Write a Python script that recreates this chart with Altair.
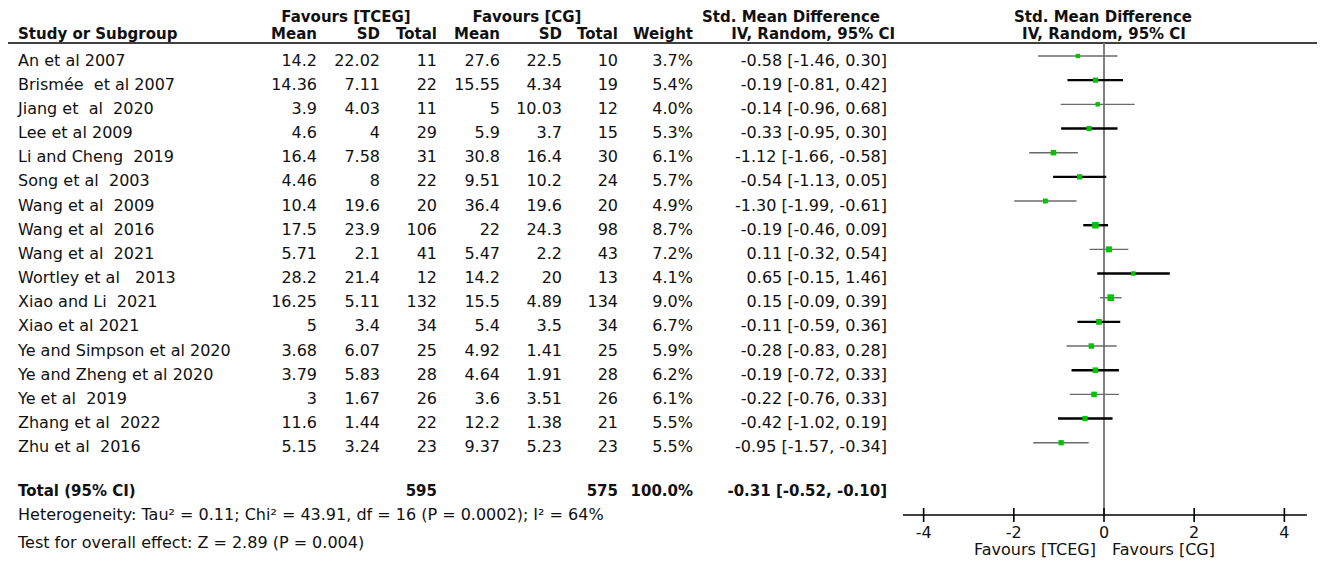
import altair as alt
import pandas as pd

# ---------------- data ----------------
studies = ["An et al 2007", "Brismée  et al 2007", "Jiang et  al  2020", "Lee et al 2009",
           "Li and Cheng  2019", "Song et al  2003", "Wang et al  2009", "Wang et al  2016",
           "Wang et al  2021", "Wortley et al   2013", "Xiao and Li  2021", "Xiao et al 2021",
           "Ye and Simpson et al 2020", "Ye and Zheng et al 2020", "Ye et al  2019",
           "Zhang et al  2022", "Zhu et al  2016"]
tceg_mean = [14.2, 14.36, 3.9, 4.6, 16.4, 4.46, 10.4, 17.5, 5.71, 28.2, 16.25, 5, 3.68, 3.79, 3, 11.6, 5.15]
tceg_sd = [22.02, 7.11, 4.03, 4, 7.58, 8, 19.6, 23.9, 2.1, 21.4, 5.11, 3.4, 6.07, 5.83, 1.67, 1.44, 3.24]
tceg_n = [11, 22, 11, 29, 31, 22, 20, 106, 41, 12, 132, 34, 25, 28, 26, 22, 23]
cg_mean = [27.6, 15.55, 5, 5.9, 30.8, 9.51, 36.4, 22, 5.47, 14.2, 15.5, 5.4, 4.92, 4.64, 3.6, 12.2, 9.37]
cg_sd = [22.5, 4.34, 10.03, 3.7, 16.4, 10.2, 19.6, 24.3, 2.2, 20, 4.89, 3.5, 1.41, 1.91, 3.51, 1.38, 5.23]
cg_n = [10, 19, 12, 15, 30, 24, 20, 98, 43, 13, 134, 34, 25, 28, 26, 21, 23]
weight = [3.7, 5.4, 4.0, 5.3, 6.1, 5.7, 4.9, 8.7, 7.2, 4.1, 9.0, 6.7, 5.9, 6.2, 6.1, 5.5, 5.5]
smd = [-0.58, -0.19, -0.14, -0.33, -1.12, -0.54, -1.30, -0.19, 0.11, 0.65, 0.15, -0.11, -0.28, -0.19, -0.22, -0.42, -0.95]
ci_low = [-1.46, -0.81, -0.96, -0.95, -1.66, -1.13, -1.99, -0.46, -0.32, -0.15, -0.09, -0.59, -0.83, -0.72, -0.76, -1.02, -1.57]
ci_high = [0.30, 0.42, 0.68, 0.30, -0.58, 0.05, -0.61, 0.09, 0.54, 1.46, 0.39, 0.36, 0.28, 0.33, 0.33, 0.19, -0.34]

total_n_tceg = 595
total_n_cg = 575
total_weight = 100.0
total_smd = -0.31
total_low = -0.52
total_high = -0.10
heterogeneity = "Heterogeneity: Tau² = 0.11; Chi² = 43.91, df = 16 (P = 0.0002); I² = 64%"
overall_effect = "Test for overall effect: Z = 2.89 (P = 0.004)"
axis_ticks = [-4, -2, 0, 2, 4]
axis_extent = [-4.46, 4.5]

# ---------------- layout / style ----------------
W, H = 1309, 552
FONT = "DejaVu Sans"
FS = 16          # regular text
FSB = 15         # bold text
ROW1_PX, ROW_H = 48, 24.17          # plot px of first study row, row pitch
ZERO_PX, PX_PER_UNIT = 1096, 45.09  # plot px of x = 0, px per SMD unit
GREEN = "#00c400"
TXT = "#111111"

y_dom = [1 - ROW1_PX / ROW_H, 1 + (H - ROW1_PX) / ROW_H]
x_dom = [-ZERO_PX / PX_PER_UNIT, (W - ZERO_PX) / PX_PER_UNIT]
XS = alt.Scale(domain=x_dom, nice=False, zero=False)
YS = alt.Scale(domain=y_dom, nice=False, zero=False, reverse=True)


def g(v):
    return f"{v:g}"


def keep_spaces(s):
    # keep repeated spaces visible in SVG text
    return s.replace("  ", " \u00a0")


n = len(studies)
df = pd.DataFrame({
    "row": list(range(1, n + 1)),
    "study": [keep_spaces(s) for s in studies],
    "m1": [g(v) for v in tceg_mean],
    "s1": [g(v) for v in tceg_sd],
    "n1": [str(v) for v in tceg_n],
    "m2": [g(v) for v in cg_mean],
    "s2": [g(v) for v in cg_sd],
    "n2": [str(v) for v in cg_n],
    "w": weight,
    "wtxt": [f"{v:.1f}%" for v in weight],
    "smd": smd,
    "lo": ci_low,
    "hi": ci_high,
    "ci": [f"{a:.2f} [{b:.2f}, {c:.2f}]" for a, b, c in zip(smd, ci_low, ci_high)],
    "band": ["g" if i % 2 == 0 else "k" for i in range(n)],
})

TOTAL_ROW = n + 2
tot = pd.DataFrame({
    "row": [TOTAL_ROW],
    "label": ["Total (95% CI)"],
    "n1": [str(total_n_tceg)],
    "n2": [str(total_n_cg)],
    "wtxt": [f"{total_weight:.1f}%"],
    "ci": [f"{total_smd:.2f} [{total_low:.2f}, {total_high:.2f}]"],
})

half_h = 10 / ROW_H
diamond = pd.DataFrame({
    "x": [total_low, total_smd, total_high],
    "y": [TOTAL_ROW, TOTAL_ROW - half_h, TOTAL_ROW],
    "y2": [TOTAL_ROW, TOTAL_ROW + half_h, TOTAL_ROW],
})

one = pd.DataFrame({"a": [0]})
Y = alt.Y("row:Q", scale=YS, axis=None)

layers = []

# study rows text
row_cols = [("study", 10, "left"), ("m1", 309, "right"), ("s1", 372, "right"), ("n1", 429, "right"),
            ("m2", 492, "right"), ("s2", 554, "right"), ("n2", 610, "right"), ("wtxt", 685, "right"),
            ("ci", 879, "right")]
for field, px, al in row_cols:
    layers.append(
        alt.Chart(df).mark_text(font=FONT, fontSize=FS, align=al, baseline="alphabetic", dy=9.5,
                                color=TXT)
        .encode(x=alt.value(px), y=Y, text=f"{field}:N")
    )

# total row text (bold)
tot_cols = [("label", 10, "left"), ("n1", 429, "right"), ("n2", 610, "right"), ("wtxt", 685, "right"),
            ("ci", 879, "right")]
for field, px, al in tot_cols:
    layers.append(
        alt.Chart(tot).mark_text(font=FONT, fontSize=FSB, fontWeight="bold", align=al,
                                 baseline="alphabetic", dy=4.5, color=TXT)
        .encode(x=alt.value(px), y=Y, text=f"{field}:N")
    )


def label(text, x, y, align="left", bold=False):
    return alt.Chart(one).mark_text(
        text=text, font=FONT, fontSize=FSB if bold else FS, fontWeight="bold" if bold else "normal",
        align=align, baseline="alphabetic", color=TXT
    ).encode(x=alt.value(x), y=alt.value(y))


headers = [
    ("Favours [TCEG]", 338, 14, "center"), ("Favours [CG]", 519, 14, "center"),
    ("Std. Mean Difference", 783, 14, "center"), ("Std. Mean Difference", 1095, 14, "center"),
    ("Study or Subgroup", 10, 31, "left"), ("Mean", 309, 31, "right"), ("SD", 372, 31, "right"),
    ("Total", 429, 31, "right"), ("Mean", 492, 31, "right"), ("SD", 554, 31, "right"),
    ("Total", 610, 31, "right"), ("Weight", 685, 31, "right"),
    ("IV, Random, 95% CI", 887, 31, "right"), ("IV, Random, 95% CI", 1096, 31, "center"),
]
for t, x, y, al in headers:
    layers.append(label(t, x, y, al, bold=True))

layers.append(label(heterogeneity, 10, 512))
layers.append(label(overall_effect, 10, 540))
layers.append(label("Favours [TCEG]", 1088, 547, "right"))
layers.append(label("Favours [CG]", 1104, 547, "left"))

# header rule
layers.append(alt.Chart(one).mark_rule(color="black", strokeWidth=1.6)
              .encode(x=alt.value(0), x2=alt.value(W), y=alt.value(35)))

# zero line
layers.append(alt.Chart(pd.DataFrame({"x": [0]})).mark_rule(color="#808080", strokeWidth=2)
              .encode(x=alt.X("x:Q", scale=XS, axis=None), y=alt.value(35), y2=alt.value(507)))

# CI lines
layers.append(
    alt.Chart(df).mark_rule().encode(
        x=alt.X("lo:Q", scale=XS, axis=None), x2="hi:Q", y=Y,
        color=alt.Color("band:N", scale=alt.Scale(domain=["g", "k"], range=["#6a6a6a", "#000000"]), legend=None),
        strokeWidth=alt.StrokeWidth("band:N", scale=alt.Scale(domain=["g", "k"], range=[1.4, 2.4]), legend=None),
    )
)

# study squares
layers.append(
    alt.Chart(df).mark_square(color=GREEN, opacity=1, filled=True).encode(
        x=alt.X("smd:Q", scale=XS, axis=None), y=Y,
        size=alt.Size("w:Q", scale=alt.Scale(domain=[0, 10], range=[0, 50]), legend=None),
    )
)

# pooled diamond
layers.append(
    alt.Chart(diamond).mark_area(color="black", opacity=1).encode(
        x=alt.X("x:Q", scale=XS, axis=None), y=alt.Y("y:Q", scale=YS, axis=None), y2="y2:Q",
        order="x:Q",
    )
)

# axis
layers.append(alt.Chart(pd.DataFrame({"a": [axis_extent[0]], "b": [axis_extent[1]]}))
              .mark_rule(color="black", strokeWidth=1.6)
              .encode(x=alt.X("a:Q", scale=XS, axis=None), x2="b:Q", y=alt.value(507)))
ticks_df = pd.DataFrame({"t": axis_ticks, "lab": [str(t) for t in axis_ticks]})
layers.append(alt.Chart(ticks_df).mark_rule(color="black", strokeWidth=1.6)
              .encode(x=alt.X("t:Q", scale=XS, axis=None), y=alt.value(500), y2=alt.value(514)))
layers.append(alt.Chart(ticks_df).mark_text(font=FONT, fontSize=FS, baseline="alphabetic", color=TXT)
              .encode(x=alt.X("t:Q", scale=XS, axis=None), y=alt.value(530), text="lab:N"))

chart = alt.layer(*layers).properties(
    width=W, height=H, autosize=alt.AutoSizeParams(type="none"), padding=0, background="white"
).configure_view(stroke=None)

chart.save("out.html", embed_options={"renderer": "svg", "actions": False})
